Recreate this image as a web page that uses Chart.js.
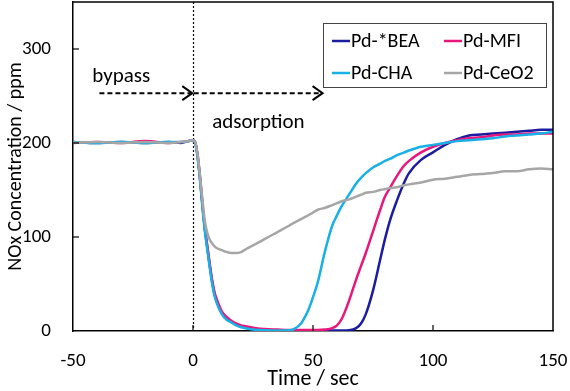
<!DOCTYPE html>
<html><head><meta charset="utf-8">
<script src="https://cdn.jsdelivr.net/npm/chart.js@4/dist/chart.umd.min.js"></script>
<style>html,body{margin:0;padding:0;background:#fff}#wrap{width:570px;height:391px}</style>
</head><body><div id="wrap"><canvas id="c" width="570" height="391"></canvas></div>
<script>
const times = [-50,-40,-30,-20,-10,-5,-2,0,1,2,3,4,5,6,7,8,9,10,12,14,16,18,20,22,25,28,30,35,40,42,45,48,50,52,55,58,60,62,65,68,70,72,75,78,80,82,85,88,90,95,100,105,110,115,120,125,130,135,140,145,150];
const seriesNames = ['Pd-*BEA','Pd-MFI','Pd-CHA','Pd-CeO2'];
const bea = [201,200,201,200,201,200,202, 203,200,184,160,132,107,88,69,52,39,31, 19,13,10,7,5,3.5, 2,1.2,1,0.5,0.5, 0.5,0.5,0.5,0.5,0.5,0.5,0.5,0.5, 0.5,0.8,3,8,18,43,76,98, 117,139,158,168,182,190, 198,204,208,209,210,211,212,213,214,214];
const mfi = [200,201,200,202,200,201,202, 203,200,186,162,134,109,90,71,54,41,33, 21,15,11,8,6,5, 3.5,2.5,2,1.5,1, 1,1,1,1,1,1.5,3,6, 13,32,55,69,83,106,129,143, 152,165,176,181,190,196, 200,203,205,206,208,209,209,210,210,210];
const cha = [201,200,201,200,201,201,202, 203,199,183,158,130,105,86,67,50,37,29, 18,12,9,6,4,3, 1.5,1,0.8,0.5,0.8, 2,8,22,36,52,85,112,123, 133,145,157,163,168,174,178,181, 183,187,190,192,196,198, 200,202,203,204,205,207,208,209,210,212];
const ceo2 = [200,201,200,201,200,201,202, 203,200,186,163,138,116,104,97,93,90,88, 86,84,83,83,84,87, 91,95,98,105,112, 115,119,123,126,129,131,134,136, 138,140,143,145,147,148,150,151, 152,153,155,156,158,161, 162,164,166,167,168,170,170,172,173,172];
const xTicks = [-50,0,50,100,150];
const yTicks = [0,100,200,300];
const colors = ['#1c1ca0','#e8177c','#18b0e6','#a6a6a6'];
const FONT = 'Carlito, Lato, "Open Sans", sans-serif';

const allSeries = [bea, mfi, cha, ceo2];
const datasets = allSeries.map((vals, i) => ({
  label: seriesNames[i],
  data: times.map((t, k) => ({x: t, y: vals[k]})),
  borderColor: colors[i],
  backgroundColor: colors[i],
  borderWidth: 2.5,
  pointRadius: 0,
  cubicInterpolationMode: 'monotone',
  order: [3,2,1,0][i]
}));

const deco = {
  id: 'deco',
  beforeDatasetsDraw(chart) {
    const {ctx, chartArea: a, scales: {x}} = chart;
    ctx.save();
    ctx.strokeStyle = '#000'; ctx.lineWidth = 1.2; ctx.setLineDash([2,2]);
    const x0 = Math.round(x.getPixelForValue(0)) + 0.5;
    ctx.beginPath(); ctx.moveTo(x0, a.top); ctx.lineTo(x0, a.bottom); ctx.stroke();
    ctx.restore();
  },
  afterDatasetsDraw(chart) {
    const {ctx, chartArea: a, scales: {x, y}} = chart;
    ctx.save();
    ctx.strokeStyle = '#000'; ctx.lineWidth = 1.5;
    ctx.beginPath(); ctx.moveTo(a.left, a.top); ctx.lineTo(a.right, a.top); ctx.lineTo(a.right, a.bottom); ctx.stroke();
    ctx.lineWidth = 1.2;
    xTicks.slice(1, -1).forEach(v => { const px = x.getPixelForValue(v); ctx.beginPath(); ctx.moveTo(px, a.bottom); ctx.lineTo(px, a.bottom - 6); ctx.stroke(); });
    yTicks.slice(1).forEach(v => { const py = y.getPixelForValue(v); ctx.beginPath(); ctx.moveTo(a.left, py); ctx.lineTo(a.left + 6, py); ctx.stroke(); });
    const arrow = (v1, v2, vy) => {
      const p1 = x.getPixelForValue(v1), p2 = x.getPixelForValue(v2), py = y.getPixelForValue(vy);
      ctx.setLineDash([5,3]); ctx.lineWidth = 2;
      ctx.beginPath(); ctx.moveTo(p1, py); ctx.lineTo(p2 - 2, py); ctx.stroke();
      ctx.setLineDash([]); ctx.lineWidth = 2;
      ctx.beginPath(); ctx.moveTo(p2 - 10, py - 7); ctx.lineTo(p2, py); ctx.lineTo(p2 - 10, py + 7); ctx.stroke();
    };
    arrow(-39, -0.3, 253);
    arrow(0.3, 54, 253);
    ctx.fillStyle = '#000'; ctx.font = '21px ' + FONT; ctx.textBaseline = 'middle'; ctx.textAlign = 'left';
    ctx.fillText('bypass', x.getPixelForValue(-42), y.getPixelForValue(271));
    ctx.fillText('adsorption', x.getPixelForValue(8), y.getPixelForValue(222));
    const bx = a.right - 230, by = a.top + 21, bw = 223, bh = 64;
    ctx.fillStyle = '#fff'; ctx.fillRect(bx, by, bw, bh);
    ctx.strokeStyle = '#444'; ctx.lineWidth = 1; ctx.strokeRect(bx + 0.5, by + 0.5, bw, bh);
    ctx.font = '20px ' + FONT;
    const pos = [[9, 18], [121, 18], [9, 50], [121, 50]];
    seriesNames.forEach((n, i) => {
      const lx = bx + pos[i][0], ly = by + pos[i][1];
      ctx.strokeStyle = colors[i]; ctx.lineWidth = 2.5;
      ctx.beginPath(); ctx.moveTo(lx, ly); ctx.lineTo(lx + 18, ly); ctx.stroke();
      ctx.fillStyle = '#000'; ctx.fillText(n, lx + 19, ly + 1);
    });
    ctx.restore();
  }
};

new Chart(document.getElementById('c'), {
  type: 'line',
  data: {datasets},
  options: {
    responsive: false, animation: false,
    layout: {autoPadding: false, padding: {top: 2, right: 17, left: 0, bottom: 0}},
    plugins: {legend: {display: false}, tooltip: {enabled: false}},
    scales: {
      x: {
        type: 'linear', min: -50, max: 150,
        afterBuildTicks: s => { s.ticks = xTicks.map(v => ({value: v})); },
        ticks: {font: {size: 19, family: FONT}, color: '#000', padding: 11},
        grid: {display: false},
        border: {display: true, color: '#000', width: 1.5},
        title: {display: true, text: 'Time / sec', font: {size: 22, family: FONT}, color: '#000', padding: {top: 0, bottom: -2}},
        afterFit: s => { s.height = 60; s.paddingLeft = 0; s.paddingRight = 0; }
      },
      y: {
        min: 0, max: 350,
        afterBuildTicks: s => { s.ticks = yTicks.map(v => ({value: v})); },
        ticks: {font: {size: 19, family: FONT}, color: '#000', padding: 14},
        grid: {display: false},
        border: {display: true, color: '#000', width: 1.5},
        title: {display: true, text: 'NOx Concentration / ppm', font: {size: 20, family: FONT}, color: '#000', padding: {top: 4, bottom: 0}},
        afterFit: s => { s.width = 73; s.paddingTop = 0; s.paddingBottom = 0; }
      }
    }
  },
  plugins: [deco]
});
</script></body></html>
